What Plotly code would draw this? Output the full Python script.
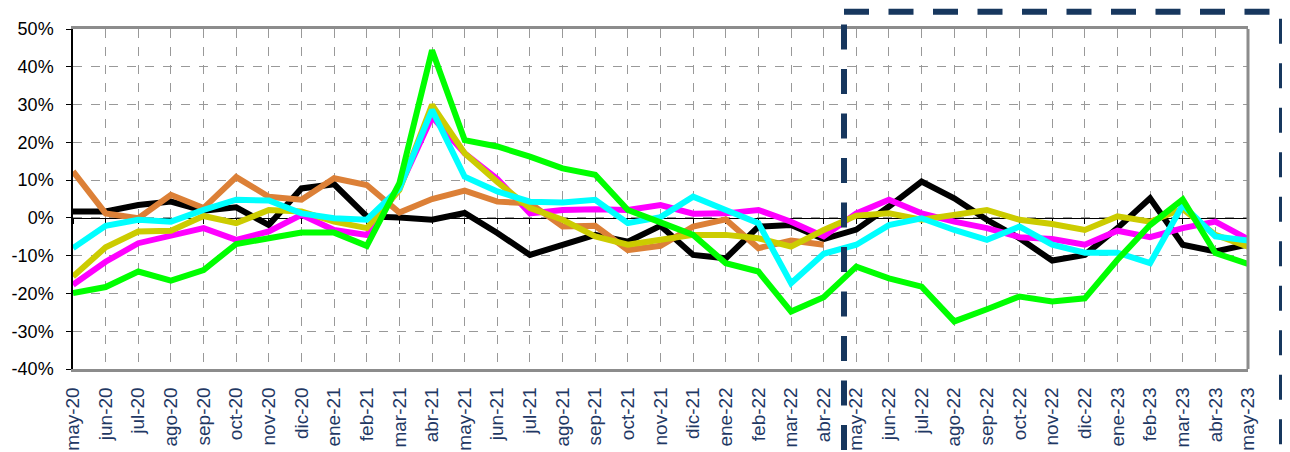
import plotly.graph_objects as go

months = ["may-20", "jun-20", "jul-20", "ago-20", "sep-20", "oct-20", "nov-20", "dic-20",
          "ene-21", "feb-21", "mar-21", "abr-21", "may-21", "jun-21", "jul-21", "ago-21",
          "sep-21", "oct-21", "nov-21", "dic-21", "ene-22", "feb-22", "mar-22", "abr-22",
          "may-22", "jun-22", "jul-22", "ago-22", "sep-22", "oct-22", "nov-22", "dic-22",
          "ene-23", "feb-23", "mar-23", "abr-23", "may-23"]

black = [1.7, 1.7, 3.4, 4.3, 1.9, 2.8, -1.9, 7.8, 8.9, 0.4, 0.1, -0.5, 1.3, -4.0, -9.8, -7.1,
         -4.5, -6.3, -2.1, -9.8, -10.7, -2.3, -1.9, -5.6, -3.1, 3.0, 9.6, 5.2, -0.5, -5.4,
         -11.3, -9.8, -2.7, 5.2, -7.1, -8.9, -7.0]
magenta = [-17.7, -11.6, -6.7, -4.9, -2.7, -5.8, -3.6, 0.8, -3.2, -4.5, 8.0, 26.8, 17.1, 10.3,
           1.2, 2.1, 2.3, 2.1, 3.4, 1.1, 1.2, 2.1, -1.0, -4.9, 1.2, 4.8, 1.2, -1.0, -2.7, -5.1,
           -5.6, -7.1, -3.4, -5.1, -2.7, -1.0, -5.6]
orange = [12.3, 1.2, -0.1, 6.1, 2.6, 10.8, 5.6, 4.8, 10.5, 8.7, 1.4, 5.0, 7.2, 4.3, 3.9, -2.3,
          -2.1, -8.5, -7.4, -2.3, -0.4, -8.0, -6.0, -7.1] + [None] * 13
yellow = [-15.5, -7.8, -3.6, -3.4, 0.5, -1.4, 2.1, 1.7, -1.0, -2.7, 7.4, 29.9, 17.1, 9.5, 2.6,
          -0.5, -4.9, -7.1, -5.8, -4.5, -4.5, -5.4, -7.6, -3.2, 0.6, 1.2, -0.5, 0.8, 2.1, -0.5,
          -1.6, -3.2, 0.4, -1.0, 2.4, -4.5, -7.6]
cyan = [-8.0, -2.1, -0.5, -1.0, 2.1, 4.8, 4.6, 1.2, -0.1, -0.5, 7.8, 28.6, 10.9, 7.0, 4.3, 4.1,
        4.8, -1.4, 0.2, 5.6, 2.1, -1.4, -17.3, -9.5, -7.1, -1.9, -0.1, -3.2, -5.8, -2.3, -7.1,
        -9.2, -9.2, -12.0, 3.4, -4.9, -6.0]
green = [-19.9, -18.3, -14.2, -16.6, -13.8, -6.9, -5.4, -3.9, -3.9, -7.4, 9.2, 44.4, 20.6, 18.9,
         16.2, 13.1, 11.4, 2.1, -1.2, -4.5, -12.0, -14.2, -24.8, -21.0, -12.9, -16.0, -18.2,
         -27.4, -24.2, -20.8, -22.1, -21.3, -11.1, -1.9, 4.9, -9.3, -12.2]

y_ticks = [-40, -30, -20, -10, 0, 10, 20, 30, 40, 50]
y_labels = [f"{v}%" for v in y_ticks]

series = [
    ("black", black, "#000000"),
    ("magenta", magenta, "#FF00FF"),
    ("orange", orange, "#DC8037"),
    ("yellow", yellow, "#CCCC00"),
    ("cyan", cyan, "#00FFFF"),
    ("green", green, "#00FF00"),
]

fig = go.Figure()
for name, vals, col in series:
    fig.add_trace(go.Scatter(x=months, y=vals, name=name, mode="lines",
                             line=dict(color=col, width=6), connectgaps=False,
                             hoverinfo="skip"))

# helper trace so the zero-line axis (x2) is created
fig.add_trace(go.Scatter(x=[0, len(months) - 1], y=[None, None], xaxis="x2", yaxis="y",
                         mode="lines", showlegend=False, hoverinfo="skip"))

# page body has an 8px default margin; size the figure to fit the 1290x452 window
OFF = 8
W, H = 1290 - OFF, 452 - OFF
L, T = 73 - OFF, 29 - OFF
R = W - (1248 - OFF)
B = H - (369 - OFF)
pw, ph = W - L - R, H - T - B


def px_x(p):
    return (p - OFF - L) / pw


def px_y(p):
    return (H - B - (p - OFF)) / ph


y_min, y_max = -40, 50
zero_pos = (0 - y_min) / (y_max - y_min)

fig.update_layout(
    template="none",
    width=W, height=H,
    margin=dict(l=L, r=R, t=T, b=B, autoexpand=False),
    paper_bgcolor="white", plot_bgcolor="white",
    showlegend=False,
    font=dict(family="Liberation Sans, Arial, sans-serif", color="#000000"),
    xaxis=dict(
        type="category", categoryorder="array", categoryarray=months,
        range=[0, len(months) - 1], tickangle=-90,
        tickfont=dict(size=19, color="#1F3864"),
        showgrid=True, gridcolor="#999999", griddash="dash", gridwidth=1,
        showline=True, linecolor="#8C8C8C", linewidth=2.5, mirror=True,
        ticks="", ticklabelstandoff=8, zeroline=False, automargin=False,
    ),
    xaxis2=dict(
        type="linear", overlaying="x", anchor="free", position=zero_pos,
        range=[0, len(months) - 1], tick0=0, dtick=1,
        ticks="outside", ticklen=5, tickwidth=1.2, tickcolor="#000000",
        showticklabels=False, showgrid=False, zeroline=False,
        showline=True, linecolor="#000000", linewidth=1.3, layer="below traces",
    ),
    yaxis=dict(
        range=[y_min, y_max], tickvals=y_ticks, ticktext=y_labels,
        tickfont=dict(size=18, color="#000000"),
        showgrid=True, gridcolor="#999999", griddash="dash", gridwidth=1,
        showline=True, linecolor="#000000", linewidth=1.5,
        ticks="outside", ticklen=5, tickwidth=1.2, tickcolor="#000000",
        ticklabelstandoff=9, zeroline=False, automargin=False,
    ),
)

navy = "#17375E"
xl, xr = px_x(844), px_x(1282)
yt = px_y(11.7)
yb_left = px_y(494.5)
yb_right = px_y(470)

fig.update_layout(shapes=[
    # right plot border
    dict(type="line", xref="paper", yref="paper", x0=1, x1=1, y0=0, y1=1,
         line=dict(color="#8C8C8C", width=3), layer="above"),
    # dashed highlight frame: top + right
    dict(type="path", xref="paper", yref="paper",
         path=f"M {xl},{yt} L {xr},{yt} L {xr},{yb_right}",
         line=dict(color=navy, width=6, dash="25px,19.5px"), layer="above"),
    # dashed highlight frame: left
    dict(type="path", xref="paper", yref="paper",
         path=f"M {xl},{yb_left} L {xl},{yt}",
         line=dict(color=navy, width=6, dash="25px,19.5px"), layer="above"),
])

fig.write_html("out.html")
